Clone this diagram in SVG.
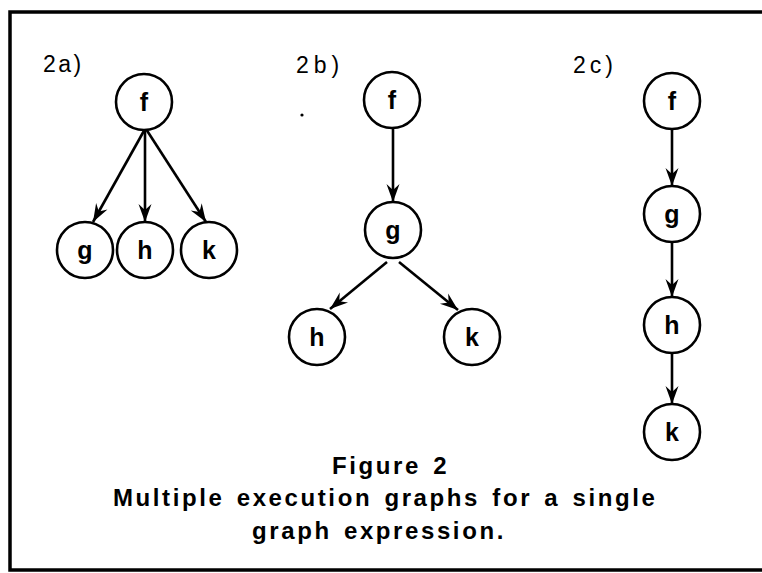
<svg xmlns="http://www.w3.org/2000/svg" width="762" height="573" viewBox="0 0 762 573">
<style>
.node circle{fill:#fff;stroke:#000;stroke-width:2.6}
.node text{font-family:"Liberation Sans",Arial,sans-serif;font-weight:bold;font-size:25px;text-anchor:middle;fill:#000}
.lbl{font-family:"Liberation Sans",Arial,sans-serif;font-size:23px;fill:#000}
.cap{font-family:"Liberation Sans",Arial,sans-serif;font-weight:bold;font-size:24px;letter-spacing:2.6px;word-spacing:3px;fill:#000}
.edge{stroke:#000;stroke-width:2.6;fill:none;marker-end:url(#arr)}
</style>
<defs>
<marker id="arr" markerUnits="userSpaceOnUse" viewBox="-19 -7 21 14" refX="0" refY="0" markerWidth="21" markerHeight="14" orient="auto">
<path d="M0,0 L-18,-6.5 L-12,0 L-18,6.5 Z" fill="#000"/>
</marker>
</defs>
<rect width="762" height="573" fill="#fff"/>
<path d="M762,12 H10 V570 H762" fill="none" stroke="#000" stroke-width="3.5"/>
<text class="lbl" x="43" y="72" letter-spacing="2.5">2a)</text>
<text class="lbl" x="296" y="73" letter-spacing="5">2b)</text>
<text class="lbl" x="573" y="73" letter-spacing="4">2c)</text>
<circle cx="302" cy="115" r="1.6" fill="#000"/>
<g id="connectors">
<line class="edge" x1="145" y1="129" x2="93" y2="222"/>
<line class="edge" x1="145" y1="130" x2="145" y2="222"/>
<line class="edge" x1="146" y1="129" x2="206" y2="222"/>
<line class="edge" x1="393" y1="128" x2="393" y2="202"/>
<line class="edge" x1="387" y1="262" x2="330" y2="309"/>
<line class="edge" x1="399" y1="262" x2="458" y2="310"/>
<line class="edge" x1="672" y1="129" x2="672" y2="186"/>
<line class="edge" x1="672" y1="242" x2="672" y2="297"/>
<line class="edge" x1="672" y1="353" x2="672" y2="404"/>
</g>
<g id="a_f" class="node"><circle cx="144" cy="102" r="28"/><text x="144" y="111">f</text></g>
<g id="a_g" class="node"><circle cx="85" cy="250" r="28"/><text x="85" y="259">g</text></g>
<g id="a_h" class="node"><circle cx="145" cy="250" r="28"/><text x="145" y="259">h</text></g>
<g id="a_k" class="node"><circle cx="209" cy="250" r="28"/><text x="209" y="259">k</text></g>
<g id="b_f" class="node"><circle cx="392" cy="100" r="28"/><text x="392" y="109">f</text></g>
<g id="b_g" class="node"><circle cx="393" cy="230" r="28"/><text x="393" y="239">g</text></g>
<g id="b_h" class="node"><circle cx="317" cy="337" r="28"/><text x="317" y="346">h</text></g>
<g id="b_k" class="node"><circle cx="472" cy="337" r="28"/><text x="472" y="346">k</text></g>
<g id="c_f" class="node"><circle cx="672" cy="101" r="28"/><text x="672" y="110">f</text></g>
<g id="c_g" class="node"><circle cx="672" cy="214" r="28"/><text x="672" y="223">g</text></g>
<g id="c_h" class="node"><circle cx="672" cy="325" r="28"/><text x="672" y="334">h</text></g>
<g id="c_k" class="node"><circle cx="672" cy="432" r="28"/><text x="672" y="441">k</text></g>
<text class="cap" x="332" y="474">Figure 2</text>
<text class="cap" x="113" y="506">Multiple execution graphs for a single</text>
<text class="cap" x="252" y="539">graph expression.</text>
</svg>
